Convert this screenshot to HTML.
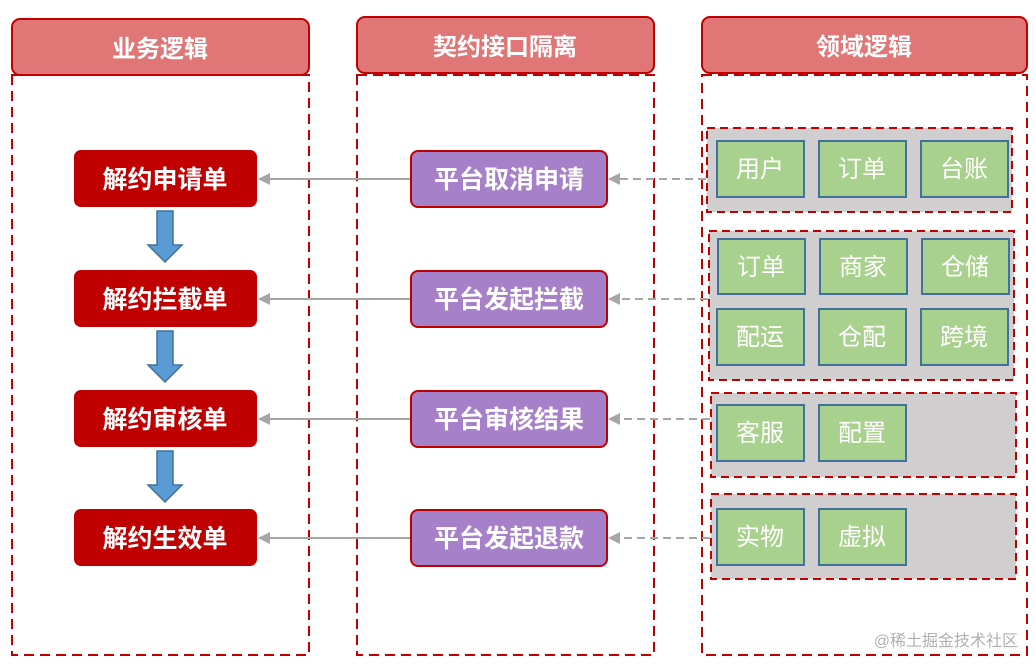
<!DOCTYPE html>
<html><head><meta charset="utf-8"><style>
html,body{margin:0;padding:0;background:#fff;width:1036px;height:670px;overflow:hidden}
svg text{font-family:"Liberation Sans","Noto Sans CJK SC",sans-serif;font-weight:bold}
svg text.n{font-weight:normal}
</style></head><body>
<svg width="1036" height="670" viewBox="0 0 1036 670" xmlns="http://www.w3.org/2000/svg">
<defs>
<marker id="ah" markerWidth="12" markerHeight="12" refX="11" refY="6" orient="auto" markerUnits="userSpaceOnUse"><path d="M0,0 L12,6 L0,12 z" fill="#a6a6a6"/></marker>
</defs>
<g fill="#e07676" stroke="#c00000" stroke-width="2">
<rect x="12" y="19" width="297" height="56" rx="8"/>
<rect x="357" y="17" width="297" height="56" rx="8"/>
<rect x="702" y="17" width="325" height="56" rx="8"/>
</g>
<g fill="#fff" font-size="24" text-anchor="middle">
<text x="160" y="57">业务逻辑</text>
<text x="505" y="55">契约接口隔离</text>
<text x="864" y="55">领域逻辑</text>
</g>
<g fill="none" stroke="#c00000" stroke-width="2" stroke-dasharray="10,6">
<rect x="12" y="75" width="297" height="580"/>
<rect x="357" y="75" width="297" height="580"/>
<rect x="702" y="75" width="325" height="580"/>
</g>
<g fill="#d0cece" stroke="#c00000" stroke-width="2" stroke-dasharray="8,5">
<rect x="707" y="128" width="305" height="84"/>
<rect x="709" y="231" width="305" height="149"/>
<rect x="711" y="393" width="305" height="84"/>
<rect x="711" y="494" width="305" height="85"/>
</g>
<g fill="#a9d18e" stroke="#41719c" stroke-width="2">
<rect x="717" y="141" width="87" height="56"/><rect x="819" y="141" width="87" height="56"/><rect x="921" y="141" width="87" height="56"/>
<rect x="718" y="239" width="87" height="55"/><rect x="820" y="239" width="87" height="55"/><rect x="922" y="239" width="87" height="55"/>
<rect x="717" y="309" width="87" height="56"/><rect x="819" y="309" width="87" height="56"/><rect x="921" y="309" width="87" height="56"/>
<rect x="717" y="405" width="87" height="56"/><rect x="819" y="405" width="87" height="56"/>
<rect x="717" y="509" width="87" height="56"/><rect x="819" y="509" width="87" height="56"/>
</g>
<g fill="#fff" font-size="24" text-anchor="middle">
<text class="n" x="760" y="177">用户</text><text class="n" x="862" y="177">订单</text><text class="n" x="964" y="177">台账</text>
<text class="n" x="761" y="275">订单</text><text class="n" x="863" y="275">商家</text><text class="n" x="965" y="275">仓储</text>
<text class="n" x="760" y="345">配运</text><text class="n" x="862" y="345">仓配</text><text class="n" x="964" y="345">跨境</text>
<text class="n" x="760" y="441">客服</text><text class="n" x="862" y="441">配置</text>
<text class="n" x="760" y="545">实物</text><text class="n" x="862" y="545">虚拟</text>
</g>
<g fill="#c00000">
<rect x="74" y="150" width="183" height="57" rx="7"/>
<rect x="74" y="270" width="183" height="57" rx="7"/>
<rect x="74" y="390" width="183" height="57" rx="7"/>
<rect x="74" y="509" width="183" height="57" rx="7"/>
</g>
<g fill="#fff" font-size="25" text-anchor="middle">
<text x="165" y="188">解约申请单</text>
<text x="165" y="308">解约拦截单</text>
<text x="165" y="428">解约审核单</text>
<text x="165" y="547">解约生效单</text>
</g>
<g fill="#5b9bd5" stroke="#41719c" stroke-width="1.5">
<path d="M157,211 H173 V245 H182 L165,262 L148,245 H157 Z"/>
<path d="M157,331 H173 V365 H182 L165,382 L148,365 H157 Z"/>
<path d="M157,451 H173 V485 H182 L165,502 L148,485 H157 Z"/>
</g>
<g fill="#a681c9" stroke="#c00000" stroke-width="2">
<rect x="411" y="151" width="196" height="56" rx="7"/>
<rect x="411" y="271" width="196" height="56" rx="7"/>
<rect x="411" y="391" width="196" height="56" rx="7"/>
<rect x="411" y="510" width="196" height="56" rx="7"/>
</g>
<g fill="#fff" font-size="25" text-anchor="middle">
<text x="509" y="188">平台取消申请</text>
<text x="509" y="308">平台发起拦截</text>
<text x="509" y="428">平台审核结果</text>
<text x="509" y="547">平台发起退款</text>
</g>
<g stroke="#a6a6a6" stroke-width="2" fill="none">
<line x1="410" y1="179" x2="259" y2="179" marker-end="url(#ah)"/>
<line x1="410" y1="299" x2="259" y2="299" marker-end="url(#ah)"/>
<line x1="410" y1="419" x2="259" y2="419" marker-end="url(#ah)"/>
<line x1="410" y1="538" x2="259" y2="538" marker-end="url(#ah)"/>
<g stroke-dasharray="8,5">
<line x1="706" y1="179" x2="609" y2="179" marker-end="url(#ah)"/>
<line x1="708" y1="299" x2="609" y2="299" marker-end="url(#ah)"/>
<line x1="710" y1="419" x2="609" y2="419" marker-end="url(#ah)"/>
<line x1="710" y1="538" x2="609" y2="538" marker-end="url(#ah)"/>
</g>
</g>
<text class="n" x="1018" y="646" font-size="16" fill="#b0b0b0" text-anchor="end">@稀土掘金技术社区</text>
</svg>
</body></html>
